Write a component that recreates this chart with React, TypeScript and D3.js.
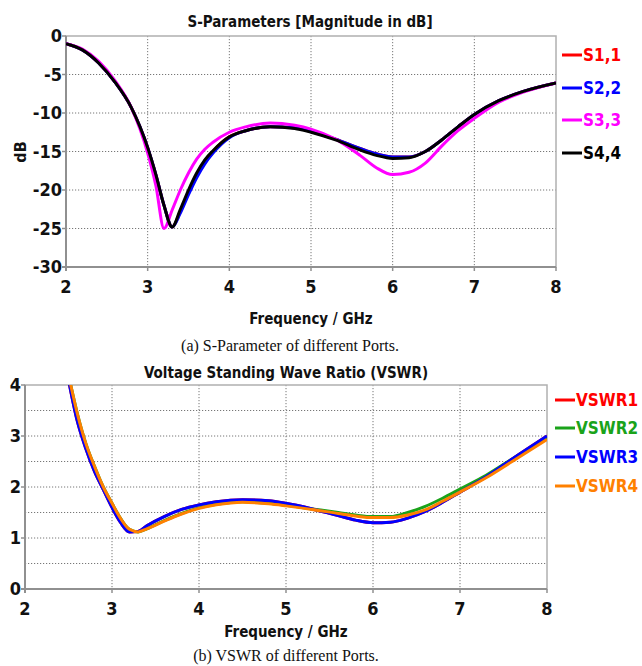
import React, { useRef, useEffect } from "react";
import * as d3 from "d3";

// S-parameter data (dB)
const sFreq = [2.0, 2.2, 2.4, 2.6, 2.8, 3.0, 3.1, 3.2, 3.3, 3.4, 3.5, 3.6, 3.7, 3.8, 4.0, 4.2, 4.5, 4.8, 5.0, 5.3, 5.6, 5.8, 6.0, 6.2, 6.4, 6.6, 6.8, 7.0, 7.3, 7.6, 8.0];
const s11 = [-1.0, -1.8, -3.5, -6.0, -9.3, -14.5, -18.0, -22.0, -24.8, -22.8, -20.3, -18.1, -16.4, -15.0, -13.1, -12.3, -11.8, -11.9, -12.4, -13.4, -14.6, -15.3, -15.7, -15.7, -15.0, -13.5, -11.8, -10.2, -8.4, -7.2, -6.1];
const s22 = [-1.0, -1.8, -3.5, -6.0, -9.3, -14.5, -18.0, -22.0, -24.8, -23.0, -20.6, -18.4, -16.6, -15.2, -13.2, -12.3, -11.8, -11.9, -12.4, -13.4, -14.6, -15.3, -15.7, -15.7, -15.0, -13.5, -11.8, -10.2, -8.4, -7.2, -6.1];
const s33 = [-1.0, -1.7, -3.3, -5.8, -9.3, -15.2, -19.4, -25.0, -22.6, -20.0, -17.8, -16.0, -14.7, -13.8, -12.5, -11.8, -11.3, -11.6, -12.1, -13.4, -15.5, -17.1, -18.0, -17.7, -16.5, -14.3, -12.3, -10.7, -8.6, -7.3, -6.1];
const s44 = [-1.0, -1.8, -3.5, -6.0, -9.3, -14.5, -18.0, -22.0, -24.8, -22.5, -20.0, -17.8, -16.1, -14.9, -13.1, -12.3, -11.8, -12.0, -12.5, -13.5, -14.8, -15.5, -15.9, -15.8, -15.0, -13.5, -11.8, -10.2, -8.4, -7.2, -6.1];
const sNames = ["S1,1", "S2,2", "S3,3", "S4,4"];
const sColors = ["#ff0000", "#0000ff", "#ff00ff", "#000000"];
const sTicksY = [0, -5, -10, -15, -20, -25, -30];

// VSWR data
const vFreq = [2.5, 2.6, 2.7, 2.8, 2.9, 3.0, 3.1, 3.2, 3.3, 3.4, 3.6, 3.8, 4.0, 4.2, 4.5, 4.8, 5.0, 5.3, 5.6, 5.8, 6.0, 6.2, 6.4, 6.6, 6.8, 7.0, 7.3, 7.6, 8.0];
const vswr1 = [4.1, 3.3, 2.75, 2.3, 1.95, 1.6, 1.3, 1.12, 1.13, 1.24, 1.42, 1.56, 1.65, 1.71, 1.75, 1.73, 1.68, 1.57, 1.44, 1.35, 1.3, 1.31, 1.39, 1.52, 1.7, 1.9, 2.2, 2.55, 3.0];
const vswr2 = [4.2, 3.45, 2.85, 2.4, 2.0, 1.68, 1.38, 1.17, 1.12, 1.18, 1.34, 1.48, 1.59, 1.66, 1.71, 1.68, 1.64, 1.57, 1.5, 1.45, 1.42, 1.42, 1.5, 1.62, 1.78, 1.96, 2.23, 2.55, 2.95];
const vswr3 = [4.1, 3.3, 2.75, 2.3, 1.95, 1.6, 1.3, 1.12, 1.13, 1.24, 1.42, 1.56, 1.65, 1.71, 1.75, 1.73, 1.68, 1.57, 1.44, 1.35, 1.3, 1.31, 1.39, 1.52, 1.7, 1.9, 2.2, 2.55, 3.0];
const vswr4 = [4.2, 3.45, 2.85, 2.4, 2.0, 1.68, 1.38, 1.17, 1.12, 1.18, 1.33, 1.47, 1.58, 1.65, 1.7, 1.67, 1.63, 1.56, 1.48, 1.43, 1.4, 1.4, 1.45, 1.55, 1.72, 1.9, 2.18, 2.5, 2.93];
const vNames = ["VSWR1", "VSWR2", "VSWR3", "VSWR4"];
const vColors = ["#ff0000", "#1aa31a", "#0000ff", "#ff8000"];
const vTicksY = [0, 1, 2, 3, 4];
const vGridY = [0.5, 1, 1.5, 2, 2.5, 3, 3.5];
const freqTicks = [2, 3, 4, 5, 6, 7, 8];

const BOLD = "'DejaVu Sans Condensed', 'DejaVu Sans', sans-serif";

const App = () => {
  const svgRef = useRef<SVGSVGElement>(null);

  useEffect(() => {
    const svg = d3.select(svgRef.current);
    svg.selectAll("*").remove();

    const drawPanel = (opts: any) => {
      const { box, yDomain, yTicks, yGrid, xs, series, names, colors, title, caption, legend, id } = opts;
      const x = d3.scaleLinear().domain([2, 8]).range([box.left, box.right]);
      const y = d3.scaleLinear().domain(yDomain).range([box.bottom, box.top]);
      const g = svg.append("g");

      g.append("clipPath").attr("id", id).append("rect")
        .attr("x", box.left).attr("y", box.top)
        .attr("width", box.right - box.left).attr("height", box.bottom - box.top);

      // grid
      g.append("g").selectAll("line").data(freqTicks.slice(1, -1)).join("line")
        .attr("x1", (d) => x(d)).attr("x2", (d) => x(d))
        .attr("y1", box.top).attr("y2", box.bottom)
        .attr("stroke", "#777").attr("stroke-dasharray", "1.2,1.8").attr("stroke-width", 1);
      g.append("g").selectAll("line").data(yGrid).join("line")
        .attr("x1", box.left).attr("x2", box.right)
        .attr("y1", (d) => y(d)).attr("y2", (d) => y(d))
        .attr("stroke", "#777").attr("stroke-dasharray", "1.2,1.8").attr("stroke-width", 1);

      // frame
      g.append("rect")
        .attr("x", box.left).attr("y", box.top)
        .attr("width", box.right - box.left).attr("height", box.bottom - box.top)
        .attr("fill", "none").attr("stroke", "#b0b0b0").attr("stroke-width", 1.5);
      g.append("line").attr("x1", box.left).attr("x2", box.left).attr("y1", box.top).attr("y2", box.bottom + 4)
        .attr("stroke", "#909090").attr("stroke-width", 2);
      g.append("line").attr("x1", box.left - 4).attr("x2", box.right).attr("y1", box.bottom).attr("y2", box.bottom)
        .attr("stroke", "#909090").attr("stroke-width", 2);

      // small ticks
      g.append("g").selectAll("line").data(freqTicks).join("line")
        .attr("x1", (d) => x(d)).attr("x2", (d) => x(d))
        .attr("y1", box.bottom).attr("y2", box.bottom + 4)
        .attr("stroke", "#909090").attr("stroke-width", 1.5);
      g.append("g").selectAll("line").data(yTicks).join("line")
        .attr("x1", box.left - 4).attr("x2", box.left)
        .attr("y1", (d) => y(d)).attr("y2", (d) => y(d))
        .attr("stroke", "#909090").attr("stroke-width", 1.5);

      // tick labels
      g.append("g").selectAll("text").data(freqTicks).join("text")
        .attr("x", (d) => x(d)).attr("y", box.bottom + 26)
        .attr("text-anchor", "middle").attr("font-family", BOLD).attr("font-weight", "bold")
        .attr("font-size", 18).attr("fill", "#111").text((d) => d);
      g.append("g").selectAll("text").data(yTicks).join("text")
        .attr("x", box.left - 4).attr("y", (d) => y(d)).attr("dy", "0.35em")
        .attr("text-anchor", "end").attr("font-family", BOLD).attr("font-weight", "bold")
        .attr("font-size", 18).attr("fill", "#111").text((d) => d);

      // lines
      const line = d3.line<number>()
        .x((_, i) => x(xs[i]))
        .y((d) => y(d))
        .curve(d3.curveMonotoneX);
      g.append("g").attr("clip-path", `url(#${id})`).selectAll("path").data(series).join("path")
        .attr("d", (d: any) => line(d))
        .attr("fill", "none")
        .attr("stroke", (_, i) => colors[i])
        .attr("stroke-width", 3)
        .attr("stroke-linejoin", "round");

      // title & labels
      g.append("text").attr("x", title.x).attr("y", title.y)
        .attr("text-anchor", "middle").attr("font-family", BOLD).attr("font-weight", "bold")
        .attr("font-size", 15).attr("fill", "#111").text(title.text);
      g.append("text").attr("x", (box.left + box.right) / 2).attr("y", opts.xLabelY)
        .attr("text-anchor", "middle").attr("font-family", BOLD).attr("font-weight", "bold")
        .attr("font-size", 15).attr("fill", "#111").text("Frequency / GHz");
      g.append("text").attr("x", caption.x).attr("y", caption.y)
        .attr("text-anchor", "middle").attr("font-family", "'Liberation Serif', 'Times New Roman', serif")
        .attr("font-size", 16).attr("fill", "#111").text(caption.text);

      // legend
      const lg = g.append("g").selectAll("g").data(names).join("g")
        .attr("transform", (_, i) => `translate(${legend.x}, ${legend.ys[i]})`);
      lg.append("line").attr("x1", 0).attr("x2", 20).attr("y1", 0).attr("y2", 0)
        .attr("stroke", (_, i) => colors[i]).attr("stroke-width", 3);
      lg.append("text").attr("x", 21).attr("y", 0).attr("dy", "0.36em")
        .attr("font-family", BOLD).attr("font-weight", "bold").attr("font-size", 17)
        .attr("fill", (_, i) => colors[i]).text((d) => d);
    };

    drawPanel({
      id: "clipS",
      box: { left: 66, right: 556, top: 36, bottom: 267 },
      yDomain: [-30, 0],
      yTicks: sTicksY,
      yGrid: [-5, -10, -15, -20, -25],
      xs: sFreq,
      series: [s11, s22, s33, s44],
      names: sNames,
      colors: sColors,
      title: { text: "S-Parameters [Magnitude in dB]", x: 310, y: 27 },
      xLabelY: 324,
      caption: { text: "(a) S-Parameter of different Ports.", x: 290, y: 351 },
      legend: { x: 562, ys: [55, 88, 120, 153] },
    });

    drawPanel({
      id: "clipV",
      box: { left: 25, right: 547, top: 385, bottom: 589 },
      yDomain: [0, 4],
      yTicks: vTicksY,
      yGrid: vGridY,
      xs: vFreq,
      series: [vswr1, vswr2, vswr3, vswr4],
      names: vNames,
      colors: vColors,
      title: { text: "Voltage Standing Wave Ratio (VSWR)", x: 286, y: 378 },
      xLabelY: 637,
      caption: { text: "(b) VSWR of different Ports.", x: 286, y: 661 },
      legend: { x: 555, ys: [400, 428, 457, 486] },
    });

    // y axis title of the first panel
    svg.append("text")
      .attr("transform", "translate(26, 152) rotate(-90)")
      .attr("text-anchor", "middle").attr("font-family", BOLD).attr("font-weight", "bold")
      .attr("font-size", 16).attr("fill", "#111").text("dB");
  }, []);

  return (
    <svg
      ref={svgRef}
      width={642}
      height={666}
      style={{ position: "absolute", left: 0, top: 0, background: "#fff" }}
    ></svg>
  );
};

export default App;
